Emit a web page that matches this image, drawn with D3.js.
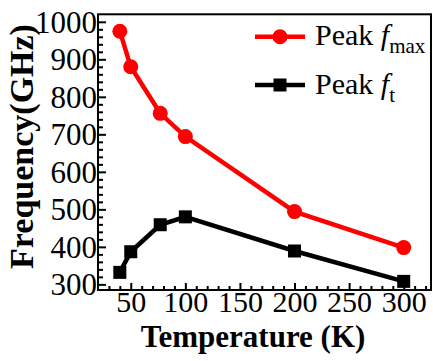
<!DOCTYPE html>
<html>
<head>
<meta charset="utf-8">
<script src="https://cdn.jsdelivr.net/npm/d3@7"></script>
<style>
  body { margin: 0; background: #fff; }
  svg { display: block; }
</style>
</head>
<body>
<div id="chart"></div>
<script>
// data
const temperatures = [40, 50, 77, 100, 200, 300];
const fmaxValues = [975, 880, 756, 694, 494, 398];
const ftValues = [332, 387, 459, 480, 389, 308];
const xMajorTicks = [50, 100, 150, 200, 250, 300];
const yMajorTicks = [300, 400, 500, 600, 700, 800, 900, 1000];

const fmaxColor = '#ff0000';
const ftColor = '#000000';
const serif = "'Liberation Serif', 'Times New Roman', Times, serif";

function drawChart() {
    const W = 433, H = 361;
    const plot = {left: 98, right: 431, top: 14.3, bottom: 290};

    const svg = d3.select('#chart')
        .append('svg')
        .attr('width', W)
        .attr('height', H)
        .style('font-family', serif);

    const x = d3.scaleLinear().domain([20, 325]).range([plot.left, plot.right]);
    const y = d3.scaleLinear().domain([285, 1020]).range([plot.bottom, plot.top]);

    // minor ticks (every 10 K and every 20 GHz)
    const xMinor = d3.range(30, 325, 10).filter(v => !xMajorTicks.includes(v));
    const yMinor = d3.range(300, 1020, 20).filter(v => !yMajorTicks.includes(v));

    const xMinorAxis = svg.append('g')
        .attr('transform', `translate(0, ${plot.bottom})`)
        .call(d3.axisBottom(x).tickValues(xMinor).tickSize(-4).tickFormat('').tickSizeOuter(0));
    const yMinorAxis = svg.append('g')
        .attr('transform', `translate(${plot.left}, 0)`)
        .call(d3.axisLeft(y).tickValues(yMinor).tickSize(-5).tickFormat('').tickSizeOuter(0));

    const xAxis = svg.append('g')
        .attr('transform', `translate(0, ${plot.bottom})`)
        .call(d3.axisBottom(x).tickValues(xMajorTicks).tickFormat(d3.format('d'))
            .tickSize(-7).tickPadding(1).tickSizeOuter(0));
    xAxis.selectAll('text')
        .style('font-family', serif)
        .style('font-size', '30px')
        .attr('fill', '#000');

    const yAxis = svg.append('g')
        .attr('transform', `translate(${plot.left}, 0)`)
        .call(d3.axisLeft(y).tickValues(yMajorTicks).tickFormat(d3.format('d'))
            .tickSize(-8).tickPadding(1).tickSizeOuter(0));
    yAxis.selectAll('text')
        .style('font-family', serif)
        .style('font-size', '31px')
        .attr('dy', '0.33em')
        .attr('fill', '#000');

    [xMinorAxis, yMinorAxis, xAxis, yAxis].forEach(a => {
        a.attr('font-family', null);
        a.select('.domain').remove();
        a.selectAll('line').attr('stroke', '#000').attr('stroke-width', 2);
    });

    // frame
    svg.append('rect')
        .attr('x', plot.left)
        .attr('y', plot.top)
        .attr('width', plot.right - plot.left)
        .attr('height', plot.bottom - plot.top)
        .attr('fill', 'none')
        .attr('stroke', '#000')
        .attr('stroke-width', 2);

    const fmaxData = temperatures.map((t, i) => ({t: t, v: fmaxValues[i]}));
    const ftData = temperatures.map((t, i) => ({t: t, v: ftValues[i]}));

    const line = d3.line().x(d => x(d.t)).y(d => y(d.v));

    // Peak fmax
    svg.append('path')
        .datum(fmaxData)
        .attr('d', line)
        .attr('fill', 'none')
        .attr('stroke', fmaxColor)
        .attr('stroke-width', 4.5);
    svg.selectAll('.fmaxDot')
        .data(fmaxData)
        .enter()
        .append('circle')
        .attr('class', 'fmaxDot')
        .attr('cx', d => x(d.t))
        .attr('cy', d => y(d.v))
        .attr('r', 7.5)
        .attr('fill', fmaxColor);

    // Peak ft
    svg.append('path')
        .datum(ftData)
        .attr('d', line)
        .attr('fill', 'none')
        .attr('stroke', ftColor)
        .attr('stroke-width', 4.5);
    const sq = 13;
    svg.selectAll('.ftDot')
        .data(ftData)
        .enter()
        .append('rect')
        .attr('class', 'ftDot')
        .attr('x', d => x(d.t) - sq / 2)
        .attr('y', d => y(d.v) - sq / 2)
        .attr('width', sq)
        .attr('height', sq)
        .attr('fill', ftColor);

    // legend
    const legend = svg.append('g');
    const items = [
        {color: fmaxColor, sub: 'max', y: 36.7, shape: 'circle'},
        {color: ftColor, sub: 't', y: 85, shape: 'square'}
    ];
    items.forEach(it => {
        legend.append('line')
            .attr('x1', 255).attr('x2', 305)
            .attr('y1', it.y).attr('y2', it.y)
            .attr('stroke', it.color)
            .attr('stroke-width', 4.5);
        if (it.shape === 'circle') {
            legend.append('circle')
                .attr('cx', 280).attr('cy', it.y).attr('r', 7.5)
                .attr('fill', it.color);
        } else {
            legend.append('rect')
                .attr('x', 280 - sq / 2).attr('y', it.y - sq / 2)
                .attr('width', sq).attr('height', sq)
                .attr('fill', it.color);
        }
        const t = legend.append('text')
            .attr('x', 315)
            .attr('y', it.y + 8.5)
            .style('font-family', serif)
            .style('font-size', '30px')
            .attr('fill', '#000');
        t.append('tspan').text('Peak ');
        t.append('tspan').style('font-style', 'italic').text('f');
        t.append('tspan').attr('dy', 8).style('font-size', '21px').text(it.sub);
    });

    // axis titles
    svg.append('text')
        .attr('x', 253)
        .attr('y', 346.5)
        .attr('text-anchor', 'middle')
        .style('font-family', serif)
        .style('font-size', '31px')
        .style('font-weight', 'bold')
        .text('Temperature (K)');

    svg.append('text')
        .attr('transform', 'translate(32.5, 146.5) rotate(-90)')
        .attr('text-anchor', 'middle')
        .style('font-family', serif)
        .style('font-size', '34px')
        .style('font-weight', 'bold')
        .text('Frequency(GHz)');
}

drawChart();
</script>
</body>
</html>
